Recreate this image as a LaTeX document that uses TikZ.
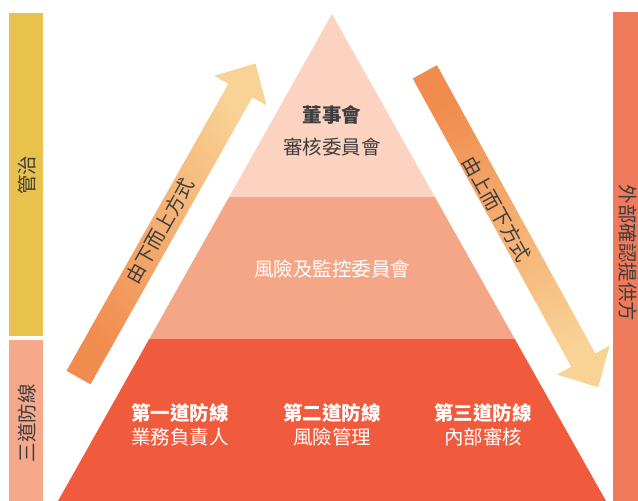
\documentclass[tikz,border=0pt]{standalone}
\usepackage{fontspec}
\setmainfont{Noto Sans CJK TC}
\definecolor{govyellow}{HTML}{E8C24C}
\definecolor{linepink}{HTML}{F5A88A}
\definecolor{extcoral}{HTML}{F07B5C}
\definecolor{toplayer}{HTML}{FCD3C0}
\definecolor{midlayer}{HTML}{F5A687}
\definecolor{botlayer}{HTML}{F05A3D}
\definecolor{arrdark}{HTML}{F08C4E}
\definecolor{arrlight}{HTML}{F9D396}
\definecolor{txtdark}{HTML}{3D3D3D}
\begin{document}
\begin{tikzpicture}[x=1pt,y=-1pt,
  lbl/.style={inner sep=0pt, font=\fontsize{19.5}{22}\selectfont},
  darklbl/.style={lbl, text=txtdark},
  whitelbl/.style={lbl, text=white},
  boldlbl/.style={font=\fontsize{19.5}{22}\selectfont\bfseries}]
\useasboundingbox (0,0) rectangle (638,501);
% side bars
\fill[govyellow] (9,13) rectangle (43,336);
\fill[linepink] (9,340) rectangle (43,501);
\fill[extcoral] (613,12) rectangle (638,501);
% pyramid layers
\fill[toplayer] (332,14) -- (434.9,197) -- (229.1,197) -- cycle;
\fill[midlayer] (229.1,197) -- (434.9,197) -- (514.8,339) -- (149.2,339) -- cycle;
\fill[botlayer] (149.2,339) -- (514.8,339) -- (606,501) -- (58,501) -- cycle;
% up arrow
\shade[top color=arrlight, bottom color=arrdark, shading angle=-55]
  (66.5,370.8) -- (228.3,83.8) -- (214.2,75.8) -- (255.5,63.5) -- (266.4,105.2)
  -- (252.3,97.3) -- (90.5,384.3) -- cycle;
% down arrow
\shade[top color=arrlight, bottom color=arrdark, shading angle=-151.2]
  (412.7,78.5) -- (571.2,366.8) -- (557.0,374.6) -- (598.3,387.3) -- (609.6,345.6)
  -- (595.4,353.5) -- (436.9,65.2) -- cycle;
% bar labels
\node[darklbl, rotate=90] (gov) at (27,175) {管治};
\node[darklbl, rotate=90] (three) at (27,423) {三道防線};
\node[darklbl, rotate=-90] (ext) at (628,253) {外部確認提供方};
% arrow labels
\node[darklbl, rotate=60.6] (up) at (160,231) {由下而上方式};
\node[darklbl, rotate=-60.8] (down) at (497,209) {由上而下方式};
% pyramid labels
\node[darklbl, boldlbl] (board) at (332,115) {董事會};
\node[darklbl] (audit) at (332,147) {審核委員會};
\node[whitelbl] (risk) at (332,269) {風險及監控委員會};
\node[whitelbl, boldlbl] (l1) at (180,413) {第一道防線};
\node[whitelbl] (l1b) at (180,437) {業務負責人};
\node[whitelbl, boldlbl] (l2) at (332,413) {第二道防線};
\node[whitelbl] (l2b) at (332,437) {風險管理};
\node[whitelbl, boldlbl] (l3) at (483,413) {第三道防線};
\node[whitelbl] (l3b) at (483,437) {內部審核};
\end{tikzpicture}
\end{document}
